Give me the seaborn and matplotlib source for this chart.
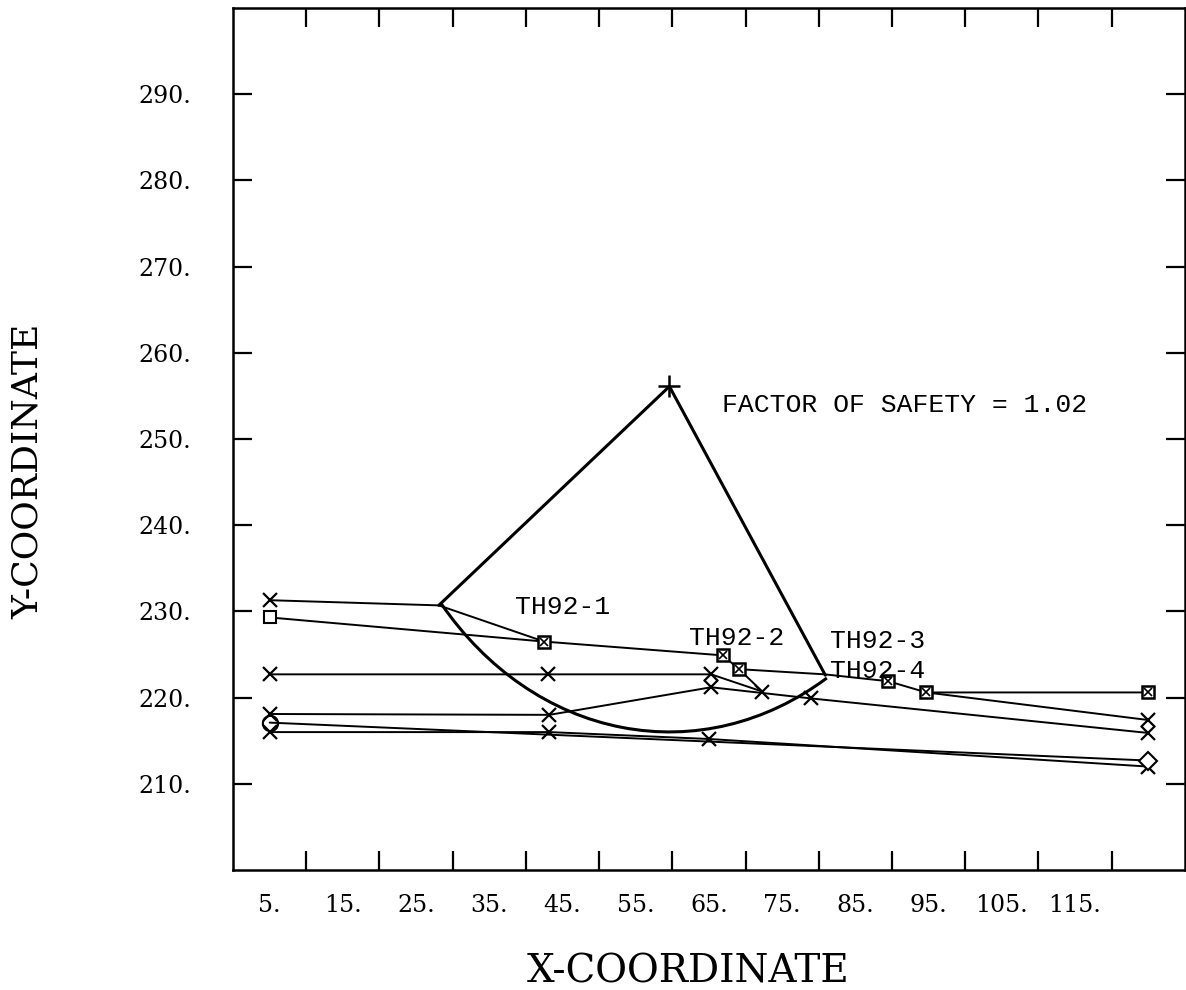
import numpy as np
import matplotlib
matplotlib.use("Agg")
import matplotlib.pyplot as plt
from matplotlib.patches import Arc
import seaborn as sns

sns.set_style("white")
plt.rcParams["font.family"] = ["DejaVu Serif"]
plt.rcParams["text.color"] = "black"
plt.rcParams["axes.labelcolor"] = "black"
plt.rcParams["xtick.color"] = "black"
plt.rcParams["ytick.color"] = "black"

# ground surface (boxes) and its branches
surf_x = [5.0, 42.5, 66.9, 69.1, 80.8, 89.5, 94.7, 125.0]
surf_y = [229.3, 226.5, 224.9, 223.3, 222.7, 221.9, 220.6, 220.6]
top_x = [5.0, 28.1, 42.5]
top_y = [231.3, 230.7, 226.5]
branch1_x = [69.1, 72.3]
branch1_y = [223.3, 220.7]
branch2_x = [94.7, 125.0]
branch2_y = [220.6, 217.4]

# soil layer boundaries
layer_p_x = [5.0, 43.0, 65.3, 72.3]
layer_p_y = [222.7, 222.7, 222.7, 220.7]
layer_q_x = [5.0, 43.2, 65.3, 79.0, 125.0]
layer_q_y = [218.1, 218.0, 221.2, 219.9, 215.9]
layer_r_x = [5.0, 125.0]
layer_r_y = [217.1, 212.7]
layer_s_x = [5.0, 43.2, 65.0, 125.0]
layer_s_y = [216.0, 216.0, 215.2, 212.0]

# critical circle: centre and the two exit points
centre = (59.6, 256.1)
left_end = (28.1, 230.7)
right_end = (80.9, 222.6)

x_tick_pos = np.arange(10, 121, 10)
x_label_pos = np.arange(5, 116, 10)
x_labels = ["5.", "15.", "25.", "35.", "45.", "55.", "65.", "75.", "85.", "95.", "105.", "115."]
y_tick_pos = np.arange(210, 291, 10)
y_labels = ["210.", "220.", "230.", "240.", "250.", "260.", "270.", "280.", "290."]

boreholes = ["TH92-1", "TH92-2", "TH92-3", "TH92-4"]
bh_x = [38.5, 62.3, 81.6, 81.6]
bh_y = [230.5, 226.9, 226.6, 223.1]

fig = plt.figure(figsize=(11.86, 9.9), dpi=100)
ax = fig.add_axes([0.1965, 0.1212, 0.8025, 0.8707])


def line(xs, ys, lw=1.4):
    sns.lineplot(x=xs, y=ys, sort=False, estimator=None, color="black",
                 linewidth=lw, ax=ax)


for xs, ys in [(surf_x, surf_y), (top_x, top_y), (branch1_x, branch1_y),
               (branch2_x, branch2_y), (layer_p_x, layer_p_y),
               (layer_q_x, layer_q_y), (layer_r_x, layer_r_y),
               (layer_s_x, layer_s_y)]:
    line(xs, ys)

# x markers
cross_x = [top_x[0]] + layer_p_x + layer_q_x + layer_s_x + [branch2_x[1]]
cross_y = [top_y[0]] + layer_p_y + layer_q_y + layer_s_y + [branch2_y[1]]
ax.plot(cross_x, cross_y, ls="none", marker="x", ms=10, mew=1.6, color="black")

# boxed-x markers on the surface
bx = [surf_x[i] for i in (1, 2, 3, 5, 6, 7)]
by = [surf_y[i] for i in (1, 2, 3, 5, 6, 7)]
ax.plot(bx, by, ls="none", marker="s", ms=9, mfc="white", mec="black", mew=1.8)
ax.plot(bx, by, ls="none", marker="x", ms=6, mew=1.2, color="black")
ax.plot(surf_x[0], surf_y[0], ls="none", marker="s", ms=9, mfc="white", mec="black", mew=1.5)
ax.plot(layer_r_x[0], layer_r_y[0], ls="none", marker="o", ms=11, mfc="none", mec="black", mew=1.5)
ax.plot(layer_r_x[1], layer_r_y[1], ls="none", marker="D", ms=9, mfc="white", mec="black", mew=1.5)

# circle: radii and arc
line([left_end[0], centre[0], right_end[0]], [left_end[1], centre[1], right_end[1]], lw=2.2)
ax.plot(centre[0], centre[1], marker="+", ms=16, mew=1.8, color="black")
r = np.mean([np.hypot(left_end[0] - centre[0], left_end[1] - centre[1]),
             np.hypot(right_end[0] - centre[0], right_end[1] - centre[1])])
t1 = np.degrees(np.arctan2(left_end[1] - centre[1], left_end[0] - centre[0])) % 360
t2 = np.degrees(np.arctan2(right_end[1] - centre[1], right_end[0] - centre[0])) % 360
ax.add_patch(Arc(centre, 2 * r, 2 * r, theta1=t1, theta2=t2, color="black", lw=2.2))

for name, tx, ty in zip(boreholes, bh_x, bh_y):
    ax.text(tx, ty, name, family="Liberation Mono", fontsize=19, va="center", ha="left")
ax.text(66.8, 254.0, "FACTOR OF SAFETY = 1.02", family="Liberation Mono",
        fontsize=19, va="center", ha="left")

ax.set_xlim(0, 130)
ax.set_ylim(200, 300)

ax.set_xticks(x_tick_pos)
ax.set_xticklabels([])
ax.set_xticks(x_label_pos, minor=True)
ax.set_xticklabels(x_labels, minor=True)
ax.tick_params(axis="x", which="major", direction="in", length=14, width=1.6,
               top=True, bottom=True, labelbottom=False)
ax.tick_params(axis="x", which="minor", length=0, pad=17, labelsize=17)

ax.set_yticks(y_tick_pos)
ax.set_yticklabels(y_labels)
ax.tick_params(axis="y", direction="in", length=14, width=1.6, left=True,
               right=True, pad=30, labelsize=17)

for s in ax.spines.values():
    s.set_linewidth(1.8)
    s.set_color("black")

ax.set_xlabel("X-COORDINATE", fontsize=28, va="center")
ax.xaxis.set_label_coords(0.478, -0.118)
ax.set_ylabel("Y-COORDINATE", fontsize=26, va="center")
ax.yaxis.set_label_coords(-0.2153, 0.462)

fig.savefig("out.png", dpi=100)
